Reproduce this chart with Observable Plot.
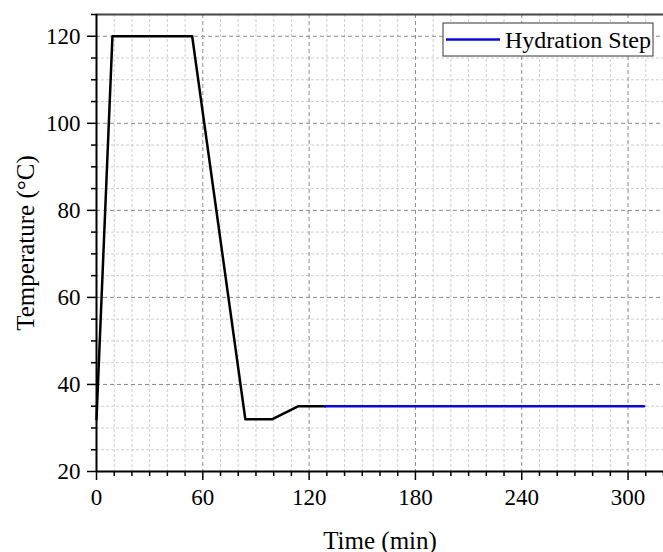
<!DOCTYPE html>
<html>
<head>
<meta charset="utf-8">
<script src="https://cdn.jsdelivr.net/npm/d3@7"></script>
<script src="https://cdn.jsdelivr.net/npm/@observablehq/plot@0.6"></script>
<style>
  html, body { margin: 0; padding: 0; background: #fff; }
  #chart svg { display: block; }
</style>
</head>
<body>
<div id="chart"></div>
<script>
// Data
const rampTime = [0, 9, 54, 84, 99, 114, 129];
const rampTemp = [32, 120, 120, 32, 32, 35, 35];
const hydrationTime = [129, 309];
const hydrationTemp = [35, 35];
const xMajor = [0, 60, 120, 180, 240, 300];
const yMajor = [20, 40, 60, 80, 100, 120];
const xMinor = d3.range(0, 321, 10).filter(v => v % 60 !== 0);
const yMinor = d3.range(20, 126, 5).filter(v => v % 20 !== 0);
const xTitle = "Time (min)";
const yTitle = "Temperature (°C)";
const legendLabel = "Hydration Step";

const ramp = rampTime.map((t, i) => ({t, v: rampTemp[i]}));
const hyd = hydrationTime.map((t, i) => ({t, v: hydrationTemp[i]}));

const font = "'Liberation Serif', 'Times New Roman', serif";

const chart = Plot.plot({
  width: 663,
  height: 552,
  marginLeft: 96,
  marginRight: 0,
  marginTop: 14,
  marginBottom: 81,
  style: {fontFamily: font, background: "#fff", overflow: "visible"},
  x: {domain: [0, 320], label: null},
  y: {domain: [20, 125], label: null},
  marks: [
    // minor grid
    Plot.ruleX(xMinor, {stroke: "#cfcfcf", strokeWidth: 1, strokeDasharray: "3,2"}),
    Plot.ruleY(yMinor, {stroke: "#cfcfcf", strokeWidth: 1, strokeDasharray: "3,2"}),
    // major grid
    Plot.ruleX(xMajor.filter(v => v > 0), {stroke: "#8a8a8a", strokeWidth: 1, strokeDasharray: "4,3"}),
    Plot.ruleY(yMajor.filter(v => v > 20), {stroke: "#8a8a8a", strokeWidth: 1, strokeDasharray: "4,3"}),
    // top border
    Plot.ruleY([125], {stroke: "#444", strokeWidth: 2}),
    // data
    Plot.line(ramp, {x: "t", y: "v", stroke: "#000", strokeWidth: 2.5}),
    Plot.line(hyd, {x: "t", y: "v", stroke: "#0a0ad2", strokeWidth: 2.5}),
    // axes
    Plot.axisX({ticks: xMinor, tickSize: 5, text: null, strokeWidth: 1.5, label: null}),
    Plot.axisY({ticks: yMinor, tickSize: 5, text: null, strokeWidth: 1.5, label: null}),
    Plot.axisX({ticks: xMajor, tickSize: 9, tickPadding: 8, fontSize: 23, strokeWidth: 1.5, tickFormat: d => String(d),
      color: "#000", label: null}),
    Plot.axisY({ticks: yMajor, tickSize: 9, tickPadding: 7, fontSize: 23, strokeWidth: 1.5, tickFormat: d => String(d),
      color: "#000", label: null}),
    Plot.ruleX([0], {stroke: "#000", strokeWidth: 2}),
    Plot.ruleY([20], {stroke: "#000", strokeWidth: 2}),
    // axis titles
    Plot.text([xTitle], {text: d => d, frameAnchor: "bottom", dy: 69, lineAnchor: "middle", textAnchor: "middle",
      fontSize: 25, fill: "#000"}),
    Plot.text([yTitle], {text: d => d, frameAnchor: "left", dx: -71, rotate: -90, lineAnchor: "middle",
      textAnchor: "middle", fontSize: 25, fill: "#000"})
  ]
});

// Legend box inside the plot frame
const svg = d3.select(chart);
const lg = svg.append("g").attr("transform", "translate(443,23)");
lg.append("rect").attr("width", 210).attr("height", 33)
  .attr("fill", "#fff").attr("stroke", "#555").attr("stroke-width", 1.2);
lg.append("line").attr("x1", 3).attr("x2", 57).attr("y1", 16.5).attr("y2", 16.5)
  .attr("stroke", "#0a0ad2").attr("stroke-width", 2.5);
lg.append("text").attr("x", 62).attr("y", 17).attr("dy", "0.35em")
  .attr("text-anchor", "start")
  .attr("font-family", font).attr("font-size", 24).attr("fill", "#000").text(legendLabel);

document.getElementById("chart").appendChild(chart);
</script>
</body>
</html>
